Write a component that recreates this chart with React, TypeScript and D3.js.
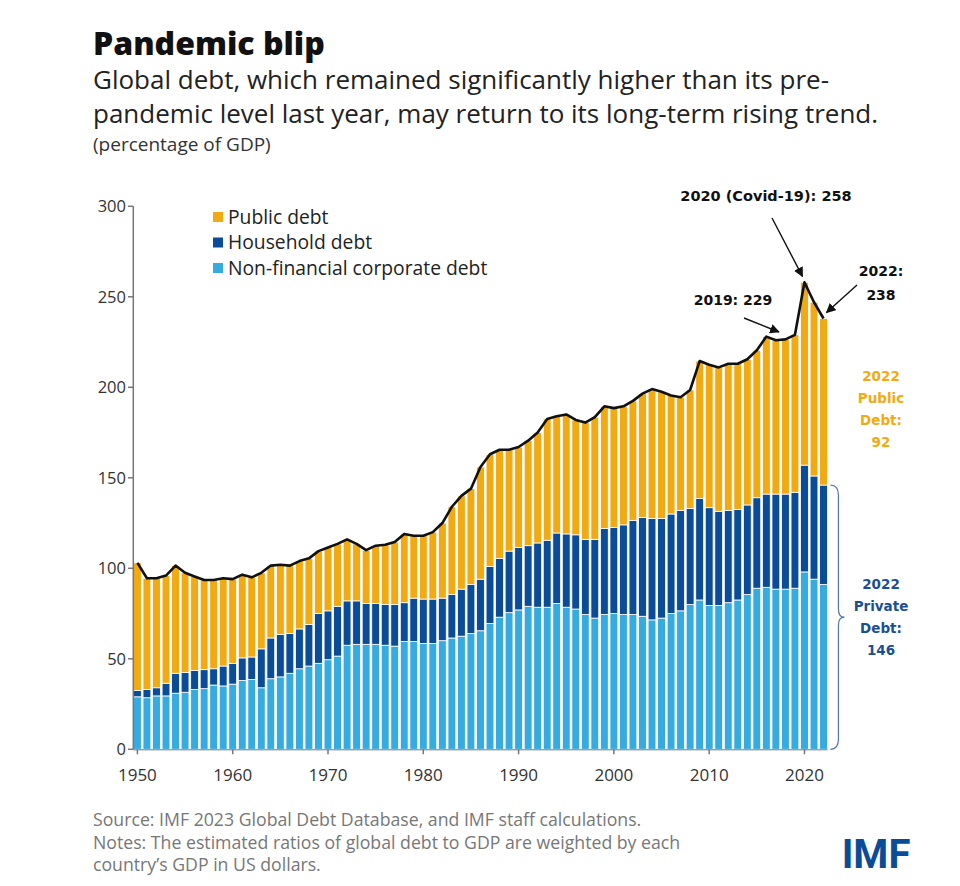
import React from "react";
import * as d3 from "d3";

const years: number[] = d3.range(1950, 2023);

const corporate: number[] = [
  29, 28.5, 29.5, 29.5, 31, 31.5, 33, 33.5, 35.5, 35,
  36, 38, 38.5, 34, 39, 40, 42, 44.5, 46, 47.5,
  49.5, 51.5, 57.5, 58, 58, 58, 57.5, 57, 59.5, 59.5,
  58.5, 58.5, 60, 61.5, 62.5, 64, 65.5, 69.5, 73, 75.5,
  77, 79, 78.5, 78.5, 80.5, 78.5, 77.5, 74.5, 72.5, 74.5,
  75, 74.5, 74.5, 73.5, 71.5, 72.5, 75, 76.5, 80, 82.5,
  79.5, 79.5, 81, 82.5, 85.5, 89, 89.5, 88.5, 88.5, 89,
  98, 94, 91,
];

const household: number[] = [
  3.5, 4.5, 4.5, 7, 11, 11, 10.5, 10.5, 9, 11,
  11.5, 12.5, 12.5, 21.5, 22.5, 23.5, 22, 22, 23, 27.5,
  27, 27.5, 24.5, 24, 22.5, 22.5, 22.5, 23, 21.5, 24,
  24.5, 24.5, 23.5, 24, 26, 27, 28.5, 31.5, 32.5, 34,
  34.5, 33.5, 35.5, 37, 39, 40.5, 41, 41.5, 43.5, 47.5,
  47.5, 49.5, 52, 54.5, 56, 55, 55, 55.5, 53, 56,
  54, 52, 51, 50, 49.5, 50, 51.5, 52.5, 52.5, 53,
  59, 57, 55,
];

const publicDebt: number[] = [
  70.5, 61.5, 60.5, 59.5, 59.5, 55, 52, 49.5, 49, 48.5,
  46.5, 46, 44, 42, 40, 38.5, 37.5, 37.5, 36.5, 34.5,
  35, 34.5, 34, 31.5, 29.5, 32, 33, 34.5, 38, 34.5,
  35, 37, 41.5, 48.5, 51.5, 53, 62, 62, 60, 56,
  55.5, 58, 61, 67, 64.5, 66, 63.5, 64.5, 67.5, 67.5,
  66, 65.5, 66, 68.5, 71.5, 70, 65.5, 62.5, 65.5, 76,
  79, 79.5, 81, 80.5, 80.5, 81.5, 87, 85, 85.5, 87,
  101, 96, 92,
];

const seriesKeys = ["corporate", "household", "public"];
const seriesLabels = ["Public debt", "Household debt", "Non-financial corporate debt"];
const yTicks = [0, 50, 100, 150, 200, 250, 300];
const xTicks = [1950, 1960, 1970, 1980, 1990, 2000, 2010, 2020];

const COLORS: Record<string, string> = {
  corporate: "#36ABE2",
  household: "#0B4C98",
  public: "#F2AA13",
};
const LEGEND_COLORS = [COLORS.public, COLORS.household, COLORS.corporate];

export default function App() {
  const W = 960;
  const H = 886;
  const x = d3
    .scaleBand<number>()
    .domain(years)
    .range([133.5, 133.5 + 73 * 9.506])
    .paddingInner(0.18)
    .paddingOuter(0.0);
  const y = d3.scaleLinear().domain([0, 300]).range([749.3, 206.3]);

  const table = years.map((yr, i) => ({
    year: yr,
    corporate: corporate[i],
    household: household[i],
    public: publicDebt[i],
  }));
  const stack = d3.stack<any>().keys(seriesKeys);
  const layers = stack(table);
  const totals = table.map((d) => ({ year: d.year, total: d.corporate + d.household + d.public }));
  const cx = (yr: number) => (x(yr) as number) + x.bandwidth() / 2;
  const line = d3
    .line<{ year: number; total: number }>()
    .x((d) => cx(d.year))
    .y((d) => y(d.total));

  const font = "'Open Sans', Lato, sans-serif";
  const boldFont = "'DejaVu Sans', sans-serif";

  const last = totals[totals.length - 1];
  const private2022 = corporate[corporate.length - 1] + household[household.length - 1];
  const yPriv = y(private2022);
  const y0 = y(0);
  const bx = x(2022)! + x.bandwidth() + 3;
  const mid = (yPriv + y0) / 2;
  const brace = `M${bx},${yPriv} Q${bx + 8},${yPriv} ${bx + 8},${yPriv + 10} L${bx + 8},${mid - 8} Q${bx + 8},${mid} ${bx + 14},${mid} Q${bx + 8},${mid} ${bx + 8},${mid + 8} L${bx + 8},${y0 - 10} Q${bx + 8},${y0} ${bx},${y0}`;

  return (
    <svg
      width={W}
      height={H}
      style={{ position: "absolute", left: 0, top: 0, background: "#fff" }}
      fontFamily={font}
    >
      <defs>
        <marker id="arr" viewBox="0 0 10 10" refX="9" refY="5" markerWidth="7" markerHeight="7" orient="auto-start-reverse">
          <path d="M0,0 L10,5 L0,10 z" fill="#111" />
        </marker>
      </defs>
      <rect width={W} height={H} fill="#fff" />

      <text x={93} y={55} fontSize={32} fontWeight={800} fill="#111">Pandemic blip</text>
      <text x={93} y={89} fontSize={26} fill="#222">Global debt, which remained significantly higher than its pre-</text>
      <text x={93} y={123} fontSize={26} fill="#222">pandemic level last year, may return to its long-term rising trend.</text>
      <text x={93} y={151} fontSize={19} fill="#333">(percentage of GDP)</text>

      {/* bars */}
      {layers.map((layer) => (
        <g key={layer.key} fill={COLORS[layer.key]}>
          {layer.map((d: any, i: number) => (
            <rect
              key={i}
              x={x(years[i])}
              y={y(d[1])}
              width={x.bandwidth()}
              height={Math.max(0, y(d[0]) - y(d[1]))}
              stroke="#fff"
              strokeWidth={0.8}
            />
          ))}
        </g>
      ))}

      {/* total line */}
      <path d={line(totals) || ""} fill="none" stroke="#111" strokeWidth={2.6} strokeLinejoin="round" />

      {/* y axis */}
      <line x1={133.3} x2={133.3} y1={y(300)} y2={y(0)} stroke="#777" strokeWidth={1.5} />
      {yTicks.map((t) => (
        <g key={t}>
          <line x1={128} x2={133.3} y1={y(t)} y2={y(t)} stroke="#777" strokeWidth={1.5} />
          <text x={126} y={y(t)} dy="0.35em" textAnchor="end" fontSize={16.5} fill="#333">{t}</text>
        </g>
      ))}
      {/* x axis */}
      <line x1={133.3} x2={x(2022)! + x.bandwidth()} y1={y(0) + 0.5} y2={y(0) + 0.5} stroke="#777" strokeWidth={1} />
      {xTicks.map((t) => (
        <g key={t}>
          <line x1={cx(t)} x2={cx(t)} y1={y(0)} y2={y(0) + 5} stroke="#777" strokeWidth={1.5} />
          <text x={cx(t)} y={781} textAnchor="middle" fontSize={17} fill="#333">{t}</text>
        </g>
      ))}

      {/* legend */}
      {seriesLabels.map((lab, i) => (
        <g key={lab} transform={`translate(213,${212 + i * 25.5})`}>
          <rect width={10} height={10} fill={LEGEND_COLORS[i]} />
          <text x={15} y={5} dy="0.35em" fontSize={19.3} fill="#222">{lab}</text>
        </g>
      ))}

      {/* annotations */}
      <g fontFamily={boldFont} fontWeight="bold" fontSize={14} fill="#111">
        <text x={766} y={201} textAnchor="middle" fontSize={14.5}>2020 (Covid-19): 258</text>
        <text x={733} y={305} textAnchor="middle">2019: 229</text>
        <text x={881} y={276} textAnchor="middle">2022:</text>
        <text x={881} y={300} textAnchor="middle">238</text>
      </g>
      <line x1={772} y1={218} x2={cx(2020) - 2} y2={y(258) - 6} stroke="#111" strokeWidth={1.4} markerEnd="url(#arr)" />
      <line x1={744} y1={318} x2={cx(2017) + 3} y2={y(230) - 1} stroke="#111" strokeWidth={1.4} markerEnd="url(#arr)" />
      <line x1={857} y1={285} x2={cx(2022) + 3} y2={y(last.total) - 6} stroke="#111" strokeWidth={1.4} markerEnd="url(#arr)" />

      <g fontFamily={boldFont} fontWeight="bold" fontSize={13.5} fill="#F2AA13" textAnchor="middle">
        <text x={881} y={381}>2022</text>
        <text x={881} y={403}>Public</text>
        <text x={881} y={425}>Debt:</text>
        <text x={881} y={447}>92</text>
      </g>
      <g fontFamily={boldFont} fontWeight="bold" fontSize={13.5} fill="#1B4F93" textAnchor="middle">
        <text x={881} y={589}>2022</text>
        <text x={881} y={611}>Private</text>
        <text x={881} y={633}>Debt:</text>
        <text x={881} y={655}>146</text>
      </g>
      <path d={brace} fill="none" stroke="#4F75A8" strokeWidth={1.2} />

      {/* footer */}
      <g fontSize={17.7} fill="#777">
        <text x={93} y={826}>Source: IMF 2023 Global Debt Database, and IMF staff calculations.</text>
        <text x={93} y={849}>Notes: The estimated ratios of global debt to GDP are weighted by each</text>
        <text x={93} y={871}>country’s GDP in US dollars.</text>
      </g>
      <text x={876} y={868} textAnchor="middle" fontFamily="'Liberation Sans Narrow', 'Roboto', sans-serif" fontWeight="bold" fontSize={40} fill="#0B4C98">IMF</text>
    </svg>
  );
}
